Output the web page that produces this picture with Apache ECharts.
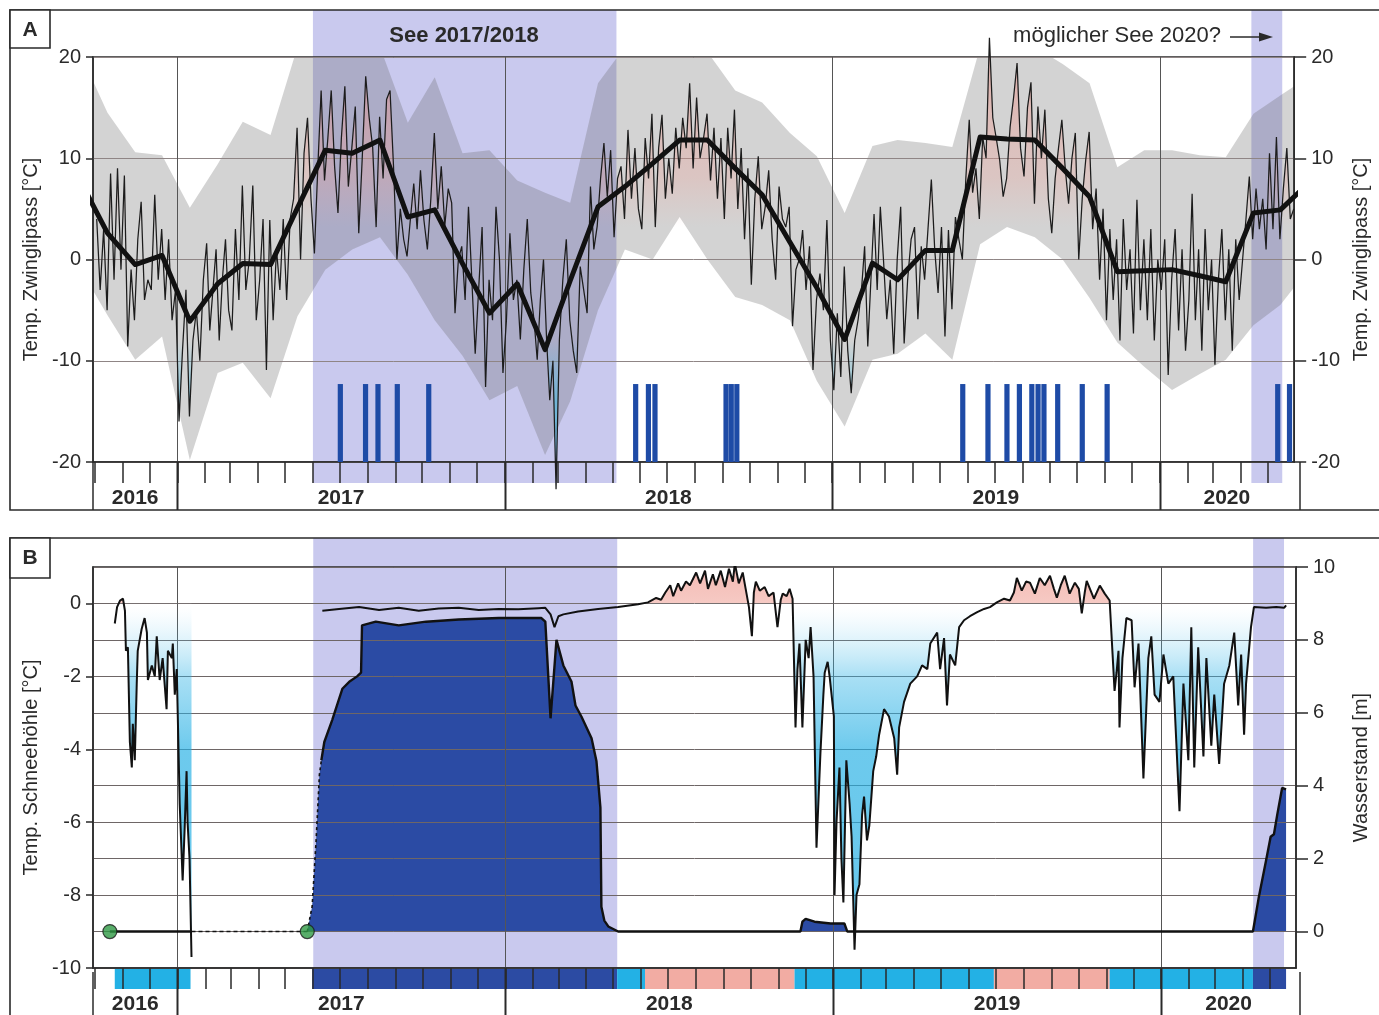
<!DOCTYPE html>
<html>
<head>
<meta charset="utf-8">
<title>Zwinglipass / Schneehöhle</title>
<script src="https://cdn.jsdelivr.net/npm/echarts@6/dist/echarts.min.js"></script>
<style>
	html, body { margin: 0; padding: 0; background: #fff; }
	#chart { width: 1379px; height: 1015px; }
</style>
</head>
<body>
<div id="chart"></div>
<script>
/* Zeitachse in Dezimaljahren */
var X_MIN = 2016.7426, X_MAX = 2020.4113;

/* Monatswerte Zwinglipass, Sep 2016 - Jun 2020 (Monatsmitte) */
var meanTemp = [7.7, 2.6, -0.5, 0.4,
	-6.1, -2.4, -0.4, -0.5, 5.1, 10.8, 10.5, 11.8, 4.2, 4.9, -0.4, -5.3,
	-2.4, -8.9, -2.1, 5.2, 7.2, 9.5, 11.8, 11.8, 9.0, 6.4, 1.7, -2.8,
	-7.9, -0.35, -2.0, 0.9, 0.9, 12.1, 11.9, 11.8, 9.0, 6.2, -1.2, -1.1,
	-1.0, -1.6, -2.2, 4.6, 4.9, 7.5];
var maxTemp = [20.3, 14.5, 10.6, 10.3,
	5.1, 9.4, 13.6, 12.3, 21, 21, 21, 21, 13.5, 18, 10.5, 10.8,
	7.8, 6.6, 5.6, 17.4, 21, 21, 21, 20.5, 16.7, 15.5, 12.5, 10.2,
	4.6, 11.2, 11.8, 11.5, 11.1, 21, 21, 21, 19.3, 17.4, 9.1, 10.8,
	10.8, 10.3, 10.1, 14.4, 16.2, 18];
var minTemp = [-1, -5.5, -9.9, -7.6,
	-19.8, -11.2, -10.2, -13.7, -5.6, -1, 1, 2.2, -1.5, -6, -9.5, -13.9,
	-12.5, -19.3, -14, -5, 1, 0, 4.2, 0, -3.7, -4.5, -6, -12,
	-16.5, -9.9, -9.3, -7.3, -9.9, 1.5, 3.2, 2.2, 0, -3.8, -8.2, -10.6,
	-12.9, -11.3, -9.9, -6.5, -4.5, -1];

/* Tageswerte Zwinglipass, eine Zeile pro Monat ab Okt 2016 */
var dailyZwingli = [
	[4, -3, 3, -5, 8.5, -2, 9, -1],
	[8.3, -8.6, -1, -6, 2, 5.7, -4, -2],
	[-3, 6.4, -2, 3, -4, 2, -6, -3],
	[-16, -9, -3, -15.5, -8, -5, -10, -2],
	[1.6, -7, -3, 1, -8, -2, 2, -5],
	[-7, 3, -4, 7.3, -3, 0, 7.3, -6],
	[-2, 4, -10.9, 3.9, -6, 1, -3, 4],
	[-4, 4, 6, 13, 0, 10.5, 14, 6],
	[0.6, 9, 16.7, 7.8, 12, 16.7, 9.2, 4.6],
	[12, 17.1, 7.2, 11, 15.1, 2.6, 10, 18.1],
	[14, 11.1, 3.2, 14.1, 8, 15.8, 16.7, 9.2],
	[0, 5, 2, 0.3, 4, 7.5, 3, 8.8],
	[3.9, 1, 6, 12.5, 5, 9.2, 3.3, 7],
	[5.6, -5.3, 0, 1.3, -4, 5.2, -2, -9.3],
	[-3, 3.2, -12.6, -2, -6, 5.2, 0, -11.2],
	[-6, 2.6, -4, -2, -7.9, -1, 4, -3.3],
	[-6, -9.9, -4, 0, -8, -13.9, -10, -22.7],
	[-8, -2, 2, -6, -9, -11.2, -0.7, -3],
	[-5.3, 7.2, 1, 3.3, 8, 11.5, 6.2, 10.8],
	[2.2, 8, 9.2, 4, 12.8, 6, 11, 5],
	[3, 12, 8, 14.4, 3.2, 11, 14.3, 6],
	[10, 6.5, 13, 9, 14, 11, 17.4, 9],
	[16, 10, 12, 14.4, 7.8, 13, 6, 12],
	[4, 13, 8, 14.8, 5, 11, 2, 9],
	[-2.5, 6, 10.2, 3, 5.2, 8.8, 2, -2],
	[7.2, 4, 3.2, 5.2, -6.6, -1, 0, 2.9],
	[-3, 1.3, -10.9, -4, -1.4, -5, 3.9, -8],
	[-12.9, -5.3, -11.6, -0.7, -9, -13.2, -8, -5.9],
	[-3, 1.3, -8.6, -2, 4.5, -3, 5.2, 0],
	[-5.9, -2, -9.3, 0, 5.2, -8.3, -2, 2],
	[3.2, -5.9, 1.3, -2, 3, 7.9, 1, -3.3],
	[3.2, -7.6, 2.9, -4.9, 4.2, 2, 0, 8],
	[13.8, 6.6, 9, 4, 12.1, 10, 21.9, 14],
	[12, 9.8, 6.2, 8, 13.1, 16, 19.4, 11],
	[8.2, 15, 17.5, 5.5, 15.1, 10, 14.8, 6],
	[2.6, 8, 11, 13.8, 9, 5.5, 10, 12.5],
	[0, 6, 9.8, 12.6, 3, 7, -2, 5],
	[-6, 3, -4, 2, -8, 4, -3, 1],
	[-7.3, 5.9, -5, 2, -6, 3, -8, 0],
	[-3, 2, -11.4, -2, 3, -7, 1, -9],
	[-4, 6.5, -6, 1, -9, 3, -5, 0],
	[-10.4, -2, 3, -6, 1, -9, 2, -4],
	[0, 4, 8.2, 2, 7, 3, 6, 1],
	[10.5, 3, 12.1, 2, 7, 11, 4, 5]
];

/* Ereignisse (blaue Balken) */
var eventDates = [2017.498, 2017.575, 2017.613, 2017.672, 2017.768,
	2018.400, 2018.439, 2018.459, 2018.676, 2018.692, 2018.709,
	2019.399, 2019.476, 2019.534, 2019.572, 2019.610, 2019.629, 2019.647, 2019.689, 2019.764, 2019.840,
	2020.361, 2020.397];
var eventTop = -12.3;

/* Seephasen */
var seeBands = [[2017.4143, 2018.3413], [2020.2805, 2020.3748]];

/* Temperatur Schneehöhle [°C] */
var caveTemp = [
	[2016.809, -0.55], [2016.816, -0.1], [2016.825, 0.08], [2016.834, 0.13], [2016.840, -0.2], [2016.843, -1.3],
	[2016.849, -1.2], [2016.855, -3.8], [2016.861, -4.5], [2016.864, -3.3], [2016.870, -4.3], [2016.876, -2.2],
	[2016.879, -1.3], [2016.891, -0.7], [2016.900, -0.4], [2016.907, -0.8], [2016.910, -2.1], [2016.922, -1.7],
	[2016.931, -2.0], [2016.937, -0.9], [2016.946, -2.1], [2016.955, -1.5], [2016.967, -2.9], [2016.971, -1.3],
	[2016.983, -1.5], [2016.986, -1.1], [2016.992, -2.5], [2016.998, -1.8], [2017.007, -5.5], [2017.016, -7.6],
	[2017.022, -6.2], [2017.028, -4.6], [2017.031, -6.0], [2017.037, -7.0], [2017.043, -9.7],
	[2017.2, null],
	[2017.442, -0.2], [2017.493, -0.15], [2017.554, -0.1], [2017.615, -0.18], [2017.675, -0.12], [2017.736, -0.2],
	[2017.797, -0.14], [2017.858, -0.12], [2017.919, -0.18], [2017.980, -0.15], [2018.040, -0.16], [2018.101, -0.13],
	[2018.122, -0.12], [2018.138, -0.3], [2018.150, -0.65], [2018.162, -0.35], [2018.177, -0.3], [2018.222, -0.22],
	[2018.283, -0.15], [2018.344, -0.1], [2018.405, -0.02], [2018.435, 0.03], [2018.460, 0.15], [2018.475, 0.1],
	[2018.488, 0.3], [2018.503, 0.5], [2018.512, 0.2], [2018.527, 0.55], [2018.536, 0.35], [2018.551, 0.6],
	[2018.563, 0.5], [2018.582, 0.85], [2018.594, 0.55], [2018.609, 0.9], [2018.618, 0.4], [2018.633, 0.8],
	[2018.642, 0.5], [2018.657, 0.9], [2018.670, 0.45], [2018.682, 0.95], [2018.694, 0.6], [2018.700, 1.1],
	[2018.712, 0.55], [2018.724, 0.85], [2018.733, 0.4], [2018.743, -0.1], [2018.752, -0.9], [2018.758, 0.3],
	[2018.764, 0.6], [2018.776, 0.35], [2018.791, 0.45], [2018.803, 0.2], [2018.818, 0.3], [2018.830, -0.65],
	[2018.840, 0.1], [2018.846, 0.27], [2018.858, 0.2], [2018.867, 0.4], [2018.876, 0.13], [2018.885, -3.4],
	[2018.891, -1.8], [2018.897, -1.1], [2018.906, -3.4], [2018.916, -1.0], [2018.925, -1.5], [2018.931, -0.65],
	[2018.940, -2.0], [2018.949, -6.7], [2018.961, -4.1], [2018.970, -2.5], [2018.974, -1.9], [2018.983, -1.6],
	[2018.989, -2.0], [2019.002, -3.1], [2019.004, -8.0], [2019.010, -6.0], [2019.019, -4.5], [2019.025, -7.0],
	[2019.031, -8.2], [2019.040, -4.3], [2019.050, -5.5], [2019.056, -6.4], [2019.065, -9.5], [2019.071, -8.0],
	[2019.080, -7.7], [2019.088, -5.8], [2019.094, -5.3], [2019.103, -6.5], [2019.110, -6.1], [2019.122, -4.6],
	[2019.131, -4.2], [2019.140, -3.6], [2019.155, -2.9], [2019.170, -3.1], [2019.186, -3.7], [2019.195, -4.7],
	[2019.201, -3.4], [2019.216, -2.7], [2019.235, -2.2], [2019.256, -2.0], [2019.271, -1.7], [2019.287, -1.8],
	[2019.296, -1.1], [2019.317, -0.8], [2019.326, -1.8], [2019.338, -0.95], [2019.347, -2.8], [2019.356, -1.4],
	[2019.372, -1.7], [2019.384, -0.65], [2019.399, -0.46], [2019.417, -0.35], [2019.439, -0.24], [2019.460, -0.15],
	[2019.478, -0.1], [2019.499, 0.03], [2019.521, 0.13], [2019.539, 0.08], [2019.551, 0.3], [2019.560, 0.7],
	[2019.575, 0.35], [2019.588, 0.6], [2019.600, 0.57], [2019.615, 0.27], [2019.630, 0.7], [2019.645, 0.5],
	[2019.661, 0.76], [2019.673, 0.4], [2019.682, 0.16], [2019.694, 0.5], [2019.706, 0.76], [2019.721, 0.27],
	[2019.737, 0.57], [2019.749, 0.4], [2019.758, -0.27], [2019.767, 0.3], [2019.773, 0.62], [2019.795, 0.13],
	[2019.813, 0.49], [2019.828, 0.27], [2019.843, 0.08], [2019.858, -2.4], [2019.864, -1.9], [2019.870, -1.3],
	[2019.873, -3.4], [2019.882, -1.5], [2019.894, -0.4], [2019.910, -0.46], [2019.919, -2.3], [2019.931, -1.1],
	[2019.946, -4.8], [2019.961, -1.5], [2019.970, -0.9], [2019.980, -2.5], [2019.995, -2.7], [2020.007, -1.4],
	[2020.022, -2.2], [2020.037, -2.0], [2020.056, -5.7], [2020.068, -2.2], [2020.083, -4.3], [2020.092, -0.65],
	[2020.101, -4.5], [2020.113, -1.2], [2020.129, -4.2], [2020.138, -1.5], [2020.153, -3.9], [2020.162, -2.5],
	[2020.177, -4.4], [2020.192, -2.2], [2020.208, -1.7], [2020.223, -0.8], [2020.235, -2.8], [2020.244, -1.4],
	[2020.253, -3.6], [2020.259, -2.2], [2020.274, -0.65], [2020.283, -0.1], [2020.320, -0.12], [2020.351, -0.1],
	[2020.375, -0.12], [2020.381, -0.05]
];

/* Wasserstand [m] */
var water2016 = [[2016.794, 0], [2017.043, 0]];
var waterGap = [[2017.043, 0], [2017.396, 0]];
var loggerStart = [[2016.794, 0], [2017.396, 0]];
var waterLevel = [
	[2017.396, 0], [2017.411, 0.7], [2017.423, 2.5], [2017.433, 4.3], [2017.439, 4.7], [2017.448, 5.2],
	[2017.472, 5.8], [2017.503, 6.66], [2017.524, 6.85], [2017.548, 7.0], [2017.560, 7.1], [2017.563, 8.4],
	[2017.605, 8.5], [2017.675, 8.4], [2017.758, 8.5], [2017.858, 8.56], [2017.980, 8.6], [2018.110, 8.6],
	[2018.122, 8.5], [2018.138, 5.85], [2018.156, 8.0], [2018.162, 8.0], [2018.177, 7.3], [2018.202, 6.85],
	[2018.214, 6.2], [2018.232, 5.9], [2018.263, 5.3], [2018.278, 4.67], [2018.290, 3.4], [2018.293, 0.68],
	[2018.302, 0.3], [2018.314, 0.14], [2018.344, 0], [2018.900, 0], [2018.906, 0.27], [2018.916, 0.35],
	[2018.943, 0.27], [2018.992, 0.22], [2019.034, 0.22], [2019.043, 0], [2020.280, 0], [2020.298, 0.95],
	[2020.320, 1.95], [2020.334, 2.6], [2020.344, 2.67], [2020.354, 3.2], [2020.369, 3.94], [2020.381, 3.9]
];

/* Leiste unter Diagramm B */
var stripSegs = [[2016.809, 2017.040, 'cyan'], [2017.411, 2018.341, 'dark'], [2018.341, 2018.426, 'cyan'],
	[2018.426, 2018.882, 'pink'], [2018.882, 2019.490, 'cyan'], [2019.490, 2019.843, 'pink'],
	[2019.843, 2020.280, 'cyan'], [2020.280, 2020.381, 'dark']];

var yearLines = [2017, 2018, 2019, 2020];

/* ---------- Hilfsfunktionen ---------- */
function decYear(y, m, d) {
	var s = Date.UTC(y, 0, 1), e = Date.UTC(y + 1, 0, 1);
	return y + (Date.UTC(y, m - 1, d) - s) / (e - s);
}

var FONT = 'Liberation Sans, Arial, Helvetica, sans-serif';
var INK = '#2a2a2a';
var BAND = '#c9c9ee';
var stripColors = { cyan: '#23b1e5', dark: '#2c4ba3', pink: '#f2aca3' };

/* Monatsmitten fuer Statistik */
var envX = meanTemp.map(function(v, i) {
	var k = 8 + i;
	return decYear(2016 + Math.floor(k / 12), k % 12 + 1, 15);
});
var meanPts = meanTemp.map(function(v, i) { return [envX[i], v]; });

/* Tageswerte gleichmaessig im Monat verteilen */
var dailyPts = [];
dailyZwingli.forEach(function(row, r) {
	var k = 9 + r, y = 2016 + Math.floor(k / 12), m = k % 12 + 1;
	var t0 = decYear(y, m, 1), t1 = decYear(y, m + 1, 1);
	row.forEach(function(v, j) {
		dailyPts.push([t0 + (j + 0.5) / row.length * (t1 - t0), v]);
	});
});

/* Monatsstriche und Jahresbeschriftung */
var monthTicks = [];
for(var k = 9; k < 60; k++) {
	var t = decYear(2016 + Math.floor(k / 12), k % 12 + 1, 1);
	if(t >= X_MIN && t <= X_MAX) monthTicks.push(t);
}
var yearLabels = [(X_MIN + 2017) / 2, 2017.5, 2018.5, 2019.5, (2020 + X_MAX) / 2];

/* ---------- Zeichenfunktionen ---------- */
function renderBand(top, bottom) {
	return function(params, api) {
		var cs = params.coordSys;
		var x0 = api.coord([api.value(0), 0])[0], x1 = api.coord([api.value(1), 0])[0];
		return { type: 'rect', shape: { x: x0, y: cs.y - top, width: x1 - x0, height: cs.height + top + bottom },
			style: { fill: BAND } };
	};
}
function renderYearLine(below) {
	return function(params, api) {
		var cs = params.coordSys;
		var x = Math.round(api.coord([api.value(0), 0])[0]) + 0.5;
		return { type: 'group', children: [
			{ type: 'line', shape: { x1: x, y1: cs.y, x2: x, y2: cs.y + cs.height }, style: { stroke: '#555', lineWidth: 1 } },
			{ type: 'line', shape: { x1: x, y1: cs.y + cs.height, x2: x, y2: cs.y + cs.height + below }, style: { stroke: INK, lineWidth: 2 } }
		] };
	};
}
function renderEnvelope(params, api) {
	if(params.dataIndex !== 0) return;
	var pts = [];
	for(var i = 0; i < envX.length; i++) pts.push(api.coord([envX[i], maxTemp[i]]));
	for(var j = envX.length - 1; j >= 0; j--) pts.push(api.coord([envX[j], minTemp[j]]));
	return { type: 'polygon', shape: { points: pts }, style: { fill: 'rgba(105,105,105,0.29)' } };
}
function renderEvent(params, api) {
	var p0 = api.coord([api.value(0), eventTop]), p1 = api.coord([api.value(0), -20]);
	return { type: 'rect', shape: { x: p0[0] - 2.6, y: p0[1], width: 5.2, height: p1[1] - p0[1] },
		style: { fill: '#1e4ba6' } };
}
function renderStrip(params, api) {
	var cs = params.coordSys;
	var x0 = api.coord([api.value(0), 0])[0], x1 = api.coord([api.value(1), 0])[0];
	return { type: 'rect', shape: { x: x0, y: cs.y + cs.height, width: x1 - x0, height: 21 },
		style: { fill: stripColors[stripSegs[params.dataIndex][2]] } };
}

/* Farbverlauf fuer Flaechen (Pixel der Plotflaechen) */
var gradA = new echarts.graphic.LinearGradient(0, 57, 0, 462, [
	{ offset: 0, color: 'rgba(236,140,130,0.7)' },
	{ offset: 0.3, color: 'rgba(240,160,150,0.38)' },
	{ offset: 0.42, color: 'rgba(240,170,160,0)' },
	{ offset: 0.7, color: 'rgba(60,190,230,0)' },
	{ offset: 0.85, color: 'rgba(60,190,230,0.75)' },
	{ offset: 1, color: 'rgba(60,190,230,0.8)' }
], true);
var gradB = new echarts.graphic.LinearGradient(0, 567, 0, 972, [
	{ offset: 0, color: 'rgba(238,150,140,0.95)' },
	{ offset: 0.088, color: 'rgba(240,165,155,0.85)' },
	{ offset: 0.091, color: 'rgba(200,235,250,0)' },
	{ offset: 0.13, color: 'rgba(120,205,240,0.1)' },
	{ offset: 0.27, color: 'rgba(50,180,230,0.6)' },
	{ offset: 0.45, color: 'rgba(35,175,228,0.95)' },
	{ offset: 1, color: 'rgba(35,175,228,1)' }
], true);

/* ---------- Achsen ---------- */
var labelStyle = { fontFamily: FONT, fontSize: 20, color: INK };
var nameStyle = { fontFamily: FONT, fontSize: 20, color: INK };
function xAxisFor(grid) {
	return {
		type: 'value', gridIndex: grid, min: X_MIN, max: X_MAX, z: 4, position: 'bottom',
		axisLine: { show: true, onZero: false, lineStyle: { color: INK, width: 1.5 } },
		axisTick: { show: true, customValues: monthTicks, length: 21, lineStyle: { color: INK, width: 1.5 } },
		axisLabel: { customValues: yearLabels, margin: 26, fontFamily: FONT, fontSize: 21, fontWeight: 'bold', color: INK,
			formatter: function(v) { return String(Math.floor(v)); } },
		splitLine: { show: false }
	};
}

var option = {
	animation: false,
	backgroundColor: '#fff',
	grid: [
		{ left: 93, top: 57, width: 1207, height: 405, show: true, borderColor: INK, borderWidth: 1.5, backgroundColor: 'transparent', z: 4 },
		{ left: 93, top: 567, width: 1207, height: 405, show: true, borderColor: INK, borderWidth: 1.5, backgroundColor: 'transparent', z: 4 }
	],
	xAxis: [xAxisFor(0), xAxisFor(1)],
	yAxis: [
		{ type: 'value', gridIndex: 0, position: 'left', min: -20, max: 20, interval: 10, z: 4,
			axisLine: { show: true, onZero: false, lineStyle: { color: INK, width: 1.5 } },
			axisTick: { show: true, length: 7, lineStyle: { color: INK, width: 1.5 } },
			axisLabel: Object.assign({ margin: 12 }, labelStyle),
			splitLine: { show: true, lineStyle: { color: '#8f8585', width: 1 } },
			name: 'Temp. Zwinglipass [°C]', nameLocation: 'middle', nameRotate: 90, nameGap: 50, nameTextStyle: nameStyle },
		{ type: 'value', gridIndex: 0, position: 'right', min: -20, max: 20, interval: 10, z: 4,
			axisLine: { show: true, onZero: false, lineStyle: { color: INK, width: 1.5 } },
			axisTick: { show: true, length: 12, lineStyle: { color: INK, width: 1.5 } },
			axisLabel: Object.assign({ margin: 17 }, labelStyle),
			splitLine: { show: false },
			name: 'Temp. Zwinglipass [°C]', nameLocation: 'middle', nameRotate: 90, nameGap: 55, nameTextStyle: nameStyle },
		{ type: 'value', gridIndex: 1, position: 'left', min: -10, max: 1, interval: 1, z: 4,
			axisLine: { show: true, onZero: false, lineStyle: { color: INK, width: 1.5 } },
			axisTick: { show: true, customValues: [-10, -8, -6, -4, -2, 0], length: 7, lineStyle: { color: INK, width: 1.5 } },
			axisLabel: Object.assign({ margin: 12, customValues: [-10, -8, -6, -4, -2, 0] }, labelStyle),
			splitLine: { show: false },
			name: 'Temp. Schneehöhle [°C]', nameLocation: 'middle', nameRotate: 90, nameGap: 50, nameTextStyle: nameStyle },
		{ type: 'value', gridIndex: 1, position: 'right', min: -1, max: 10, interval: 1, z: 4,
			axisLine: { show: true, onZero: false, lineStyle: { color: INK, width: 1.5 } },
			axisTick: { show: true, customValues: [0, 2, 4, 6, 8, 10], length: 12, lineStyle: { color: INK, width: 1.5 } },
			axisLabel: Object.assign({ margin: 17, customValues: [0, 2, 4, 6, 8, 10] }, labelStyle),
			splitLine: { show: false },
			name: 'Wasserstand [m]', nameLocation: 'middle', nameRotate: 90, nameGap: 55, nameTextStyle: nameStyle },
		{ type: 'value', gridIndex: 1, position: 'left', min: -10, max: 1, interval: 1, z: 4,
			axisLine: { show: false }, axisTick: { show: false }, axisLabel: { show: false },
			splitLine: { show: true, lineStyle: { color: '#6e6666', width: 1 } } }
	],
	series: [
		/* Diagramm A */
		{ type: 'custom', xAxisIndex: 0, yAxisIndex: 0, data: seeBands, encode: { x: [0, 1] },
			renderItem: renderBand(47, 21), clip: false, silent: true, z: 1 },
		{ type: 'custom', xAxisIndex: 0, yAxisIndex: 0, data: envX.map(function(x, i) { return [x, minTemp[i], maxTemp[i]]; }),
			encode: { x: 0, y: [1, 2] }, renderItem: renderEnvelope, clip: true, silent: true, z: 2 },
		{ type: 'custom', xAxisIndex: 0, yAxisIndex: 0, data: yearLines, encode: { x: 0 },
			renderItem: renderYearLine(48), clip: false, silent: true, z: 4 },
		{ type: 'line', xAxisIndex: 0, yAxisIndex: 0, data: dailyPts, symbol: 'none', clip: false, z: 5,
			lineStyle: { color: '#1c1c1c', width: 1.25 }, areaStyle: { color: gradA } },
		{ type: 'line', xAxisIndex: 0, yAxisIndex: 0, data: meanPts, symbol: 'none', clip: true, z: 6,
			lineStyle: { color: '#111', width: 5, join: 'round' } },
		{ type: 'custom', xAxisIndex: 0, yAxisIndex: 0, data: eventDates, encode: { x: 0 },
			renderItem: renderEvent, clip: false, silent: true, z: 5 },

		/* Diagramm B */
		{ type: 'custom', xAxisIndex: 1, yAxisIndex: 2, data: seeBands, encode: { x: [0, 1] },
			renderItem: renderBand(29, 21), clip: false, silent: true, z: 1 },
		{ type: 'custom', xAxisIndex: 1, yAxisIndex: 2, data: stripSegs.map(function(s) { return [s[0], s[1]]; }),
			encode: { x: [0, 1] }, renderItem: renderStrip, clip: false, silent: true, z: 2 },
		{ type: 'custom', xAxisIndex: 1, yAxisIndex: 2, data: yearLines, encode: { x: 0 },
			renderItem: renderYearLine(50), clip: false, silent: true, z: 4 },
		{ type: 'line', xAxisIndex: 1, yAxisIndex: 3, data: waterLevel, symbol: 'none', z: 2,
			lineStyle: { width: 0 }, areaStyle: { color: '#2b4ba4', opacity: 1 } },
		{ type: 'line', xAxisIndex: 1, yAxisIndex: 3, data: waterLevel.slice(4), symbol: 'none', z: 6,
			lineStyle: { color: '#111', width: 2.4 } },
		{ type: 'line', xAxisIndex: 1, yAxisIndex: 3, data: waterLevel.slice(0, 5), symbol: 'none', z: 6,
			lineStyle: { color: '#111', width: 1.6, type: [3, 3] } },
		{ type: 'line', xAxisIndex: 1, yAxisIndex: 3, data: water2016, symbol: 'none', z: 6,
			lineStyle: { color: '#111', width: 2.4 } },
		{ type: 'line', xAxisIndex: 1, yAxisIndex: 3, data: waterGap, symbol: 'none', z: 6,
			lineStyle: { color: '#111', width: 1.6, type: [4, 3] } },
		{ type: 'line', xAxisIndex: 1, yAxisIndex: 2, data: caveTemp, symbol: 'none', z: 6, connectNulls: false,
			lineStyle: { color: '#111', width: 2 }, areaStyle: { color: gradB } },
		{ type: 'scatter', xAxisIndex: 1, yAxisIndex: 3, data: loggerStart, symbol: 'circle', symbolSize: 14, z: 7,
			itemStyle: { color: '#2f9a45', borderColor: '#1a1a1a', borderWidth: 1.2 } }
	],
	graphic: [
		{ type: 'rect', z: 100, shape: { x: 10, y: 10, width: 1400, height: 500 }, style: { fill: 'none', stroke: INK, lineWidth: 1.6 } },
		{ type: 'rect', z: 100, shape: { x: 10, y: 10, width: 40, height: 38 }, style: { fill: '#fff', stroke: INK, lineWidth: 1.6 } },
		{ type: 'text', z: 101, x: 30, y: 30, style: { text: 'A', font: 'bold 21px ' + FONT, fill: INK, textAlign: 'center', textVerticalAlign: 'middle' } },
		{ type: 'rect', z: 100, shape: { x: 10, y: 538, width: 1400, height: 500 }, style: { fill: 'none', stroke: INK, lineWidth: 1.6 } },
		{ type: 'rect', z: 100, shape: { x: 10, y: 538, width: 40, height: 40 }, style: { fill: '#fff', stroke: INK, lineWidth: 1.6 } },
		{ type: 'text', z: 101, x: 30, y: 558, style: { text: 'B', font: 'bold 21px ' + FONT, fill: INK, textAlign: 'center', textVerticalAlign: 'middle' } },
		{ type: 'line', z: 100, shape: { x1: 93, y1: 462, x2: 93, y2: 510 }, style: { stroke: INK, lineWidth: 1.5 } },
		{ type: 'line', z: 100, shape: { x1: 1300, y1: 462, x2: 1300, y2: 510 }, style: { stroke: INK, lineWidth: 1.5 } },
		{ type: 'line', z: 100, shape: { x1: 93, y1: 972, x2: 93, y2: 1015 }, style: { stroke: INK, lineWidth: 1.5 } },
		{ type: 'line', z: 100, shape: { x1: 1300, y1: 972, x2: 1300, y2: 1015 }, style: { stroke: INK, lineWidth: 1.5 } },
		{ type: 'text', z: 101, x: 464, y: 36, style: { text: 'See 2017/2018', font: 'bold 22px ' + FONT, fill: INK, textAlign: 'center', textVerticalAlign: 'middle' } },
		{ type: 'text', z: 101, x: 1221, y: 36, style: { text: 'möglicher See 2020?', font: '22px ' + FONT, fill: INK, textAlign: 'right', textVerticalAlign: 'middle' } },
		{ type: 'line', z: 101, shape: { x1: 1230, y1: 37, x2: 1262, y2: 37 }, style: { stroke: INK, lineWidth: 1.5 } },
		{ type: 'polygon', z: 101, shape: { points: [[1273, 37], [1259, 32.5], [1259, 41.5]] }, style: { fill: INK } }
	]
};

var myChart = echarts.init(document.getElementById('chart'), null, { renderer: 'canvas' });
myChart.setOption(option);
</script>
</body>
</html>
